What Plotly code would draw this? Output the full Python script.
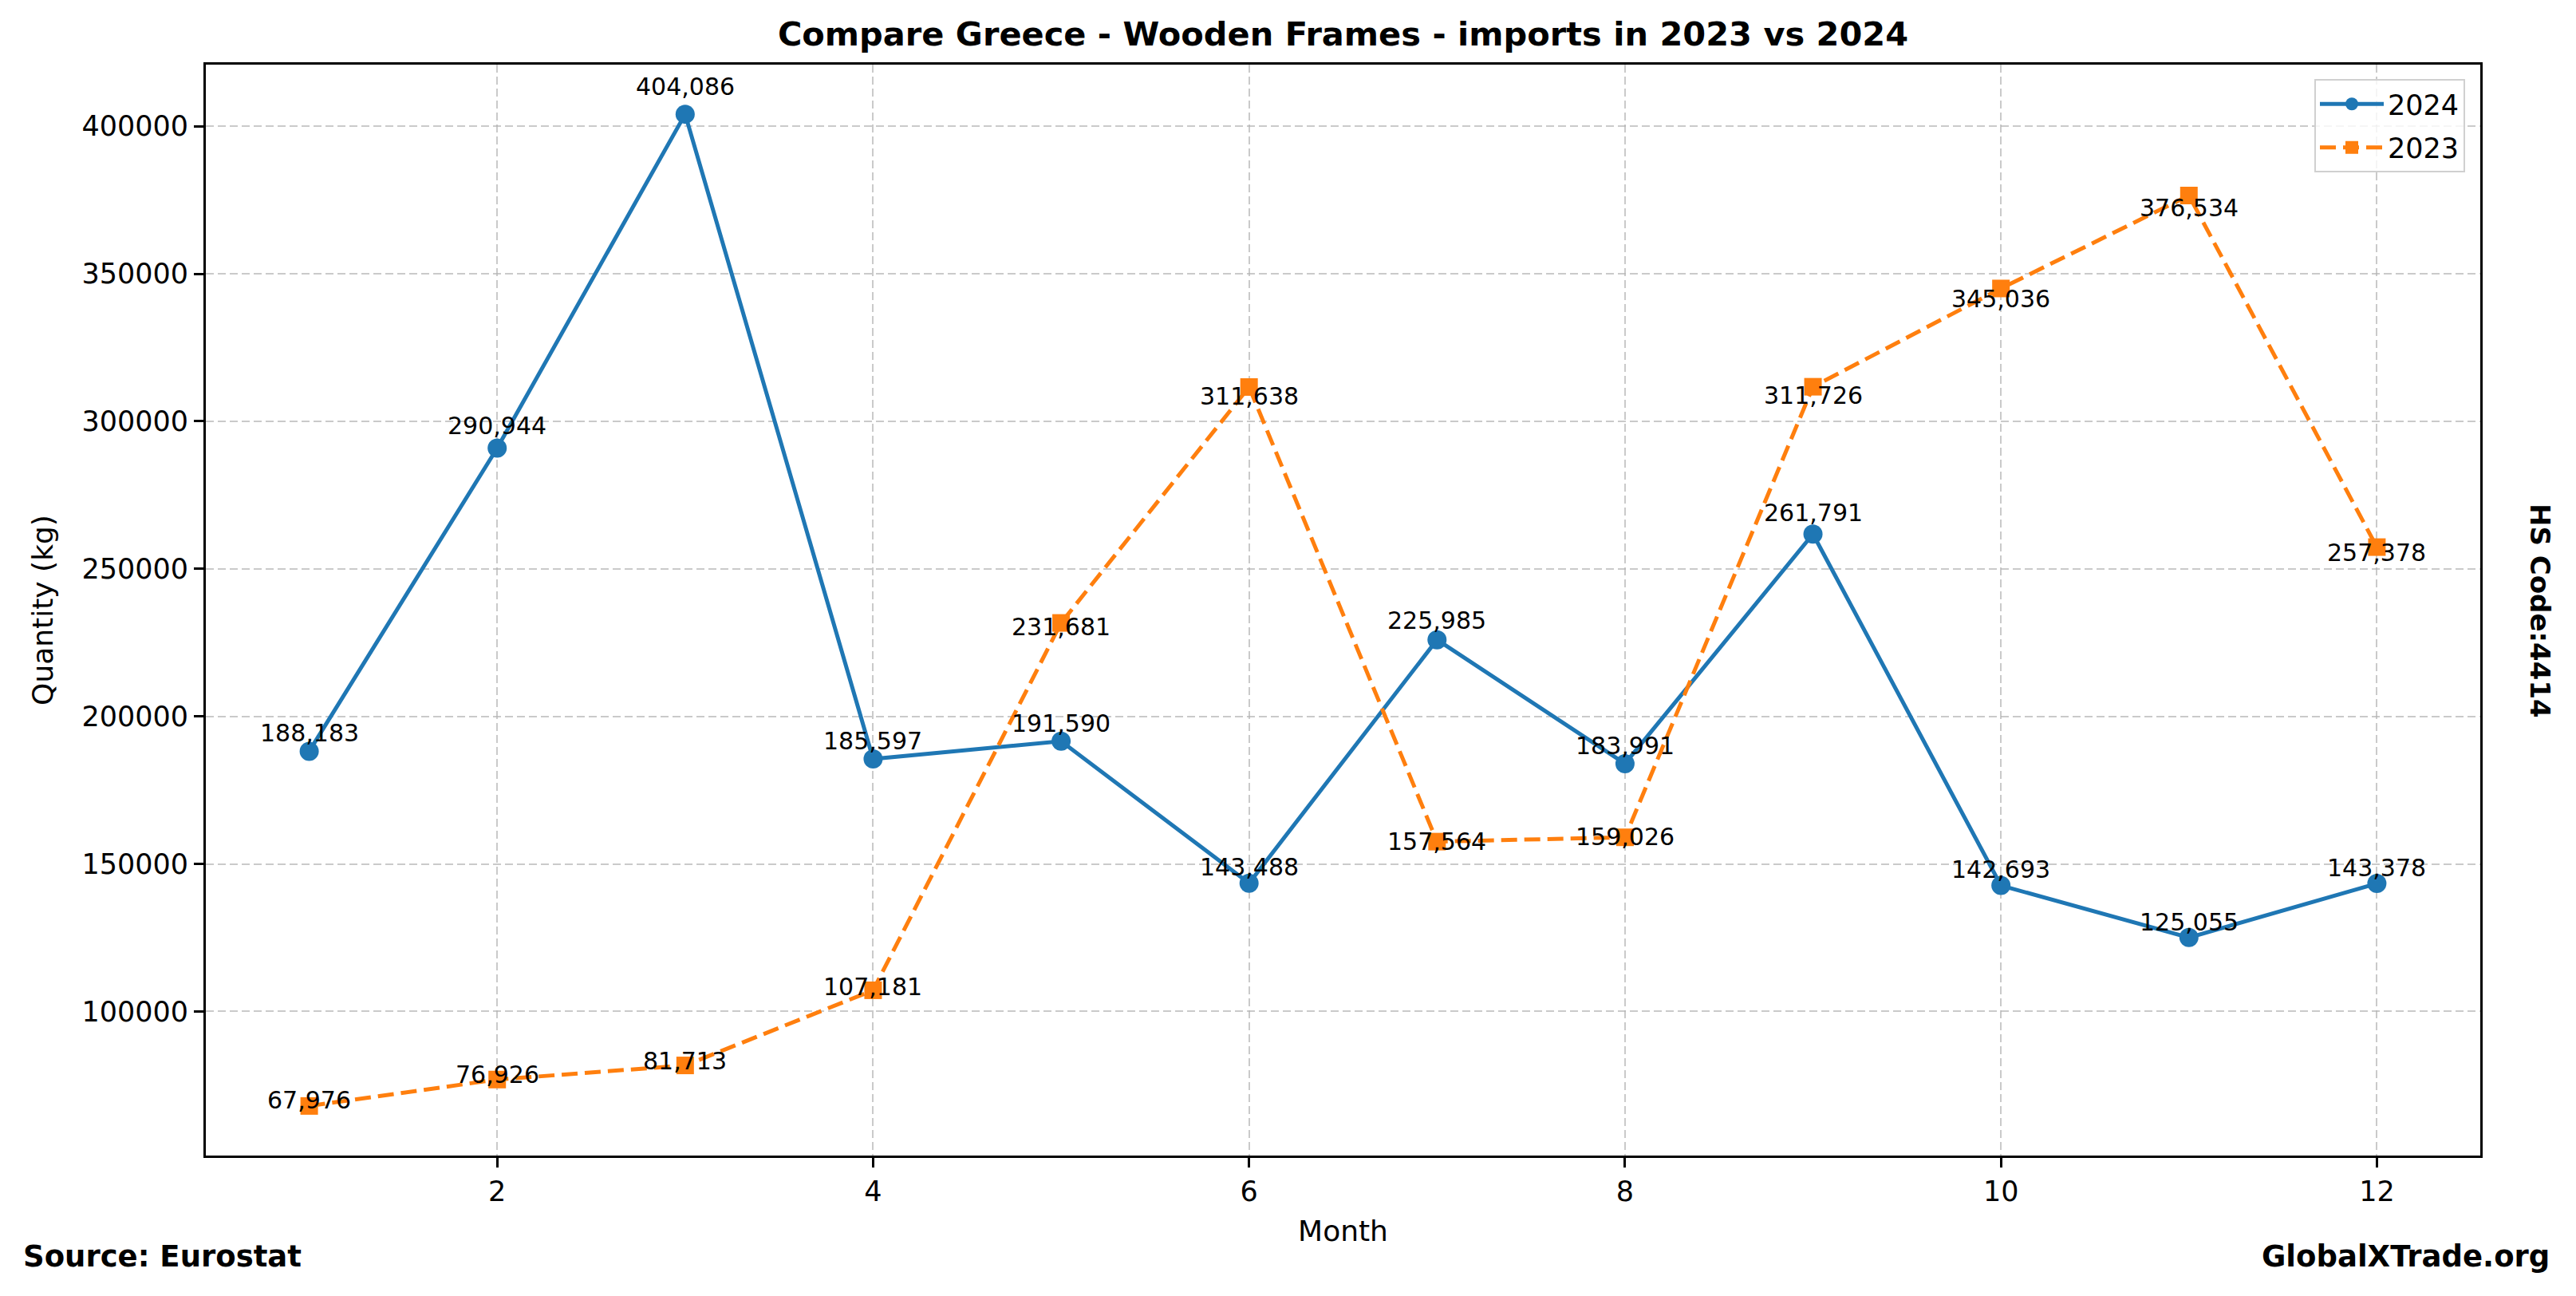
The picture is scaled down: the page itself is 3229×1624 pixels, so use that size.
import plotly.graph_objects as go

months = [1, 2, 3, 4, 5, 6, 7, 8, 9, 10, 11, 12]
values_2024 = [188183, 290944, 404086, 185597, 191590, 143488, 225985, 183991, 261791, 142693, 125055, 143378]
values_2023 = [67976, 76926, 81713, 107181, 231681, 311638, 157564, 159026, 311726, 345036, 376534, 257378]
x_ticks = [2, 4, 6, 8, 10, 12]
y_ticks = [100000, 150000, 200000, 250000, 300000, 350000, 400000]

BLUE = "#1f77b4"
ORANGE = "#ff7f0e"
FONT = "DejaVu Sans"

W, H = 3229, 1624
L, R, T, B = 258, 3109, 81, 1448

fig = go.Figure()
fig.add_trace(go.Scatter(
    x=months, y=values_2024, name="2024", mode="lines+markers", legendgroup="a",
    line=dict(color=BLUE, width=5),
    marker=dict(symbol="circle", size=24, color=BLUE),
))
fig.add_trace(go.Scatter(
    x=months, y=values_2023, name="2023", mode="lines+markers", legendgroup="b",
    line=dict(color=ORANGE, width=5, dash="20px,9px"),
    marker=dict(symbol="square", size=22, color=ORANGE),
))

# labels: 2024 slightly above (value * 1.015), 2023 slightly below (value * 0.98), baseline anchored
annotations = []
for m, v in zip(months, values_2024):
    annotations.append(dict(x=m, y=v * 1.015, xref="x", yref="y", text=f"{v:,}", showarrow=False,
                            xanchor="center", yanchor="middle", yshift=12,
                            font=dict(family=FONT, size=30, color="black")))
for m, v in zip(months, values_2023):
    annotations.append(dict(x=m, y=v * 0.98, xref="x", yref="y", text=f"{v:,}", showarrow=False,
                            xanchor="center", yanchor="middle", yshift=12,
                            font=dict(family=FONT, size=30, color="black")))


def px_to_paper(xp, yp):
    return (xp - L) / (R - L), (B - yp) / (B - T)


sx, sy = px_to_paper(27, 1574)
annotations.append(dict(x=sx, y=sy, xref="paper", yref="paper", text="<b>Source: Eurostat</b>",
                        showarrow=False, xanchor="left", yanchor="middle",
                        font=dict(family=FONT, size=37, color="black")))
gx, gy = px_to_paper(3198, 1574)
annotations.append(dict(x=gx, y=gy, xref="paper", yref="paper", text="<b>GlobalXTrade.org</b>",
                        showarrow=False, xanchor="right", yanchor="middle",
                        font=dict(family=FONT, size=37, color="black")))
hx, hy = px_to_paper(3184, 765)
annotations.append(dict(x=hx, y=hy, xref="paper", yref="paper", text="<b>HS Code:4414</b>",
                        showarrow=False, xanchor="center", yanchor="middle", textangle=90,
                        font=dict(family=FONT, size=34, color="black")))

lx, ly = px_to_paper(3090, 99)
fig.update_layout(
    width=W, height=H,
    margin=dict(l=L, r=W - R, t=T, b=H - B, pad=0),
    paper_bgcolor="white", plot_bgcolor="white",
    font=dict(family=FONT, size=35, color="black"),
    title=dict(text="<b>Compare Greece - Wooden Frames - imports in 2023 vs 2024</b>",
               x=(L + R) / 2 / W, xanchor="center", y=1 - 42 / H, yanchor="middle",
               font=dict(family=FONT, size=41.5, color="black")),
    showlegend=True,
    legend=dict(x=lx, y=ly, xanchor="right", yanchor="top", tracegroupgap=6,
                bgcolor="rgba(255,255,255,0.8)", bordercolor="#d0d0d0", borderwidth=2,
                font=dict(family=FONT, size=35, color="black"), itemwidth=80),
    annotations=annotations,
)
fig.update_xaxes(
    range=[0.45, 12.55], tickvals=x_ticks, ticktext=[str(t) for t in x_ticks],
    showline=True, linecolor="black", linewidth=2.8, mirror=True,
    ticks="outside", ticklen=12, tickwidth=2.8, tickcolor="black",
    showgrid=True, gridcolor="rgba(180,180,180,0.7)", gridwidth=2, griddash="10px,5px",
    zeroline=False,
    title=dict(text="Month", font=dict(family=FONT, size=36), standoff=18),
    tickfont=dict(family=FONT, size=35),
)
fig.update_yaxes(
    range=[51171, 420891], tickvals=y_ticks, ticktext=[str(t) for t in y_ticks],
    showline=True, linecolor="black", linewidth=2.8, mirror=True,
    ticks="outside", ticklen=12, tickwidth=2.8, tickcolor="black",
    showgrid=True, gridcolor="rgba(180,180,180,0.7)", gridwidth=2, griddash="10px,5px",
    zeroline=False,
    title=dict(text="Quantity (kg)", font=dict(family=FONT, size=36), standoff=25),
    tickfont=dict(family=FONT, size=35),
)

fig.write_html("out.html", post_script="document.body.style.margin='0';",
               config={"displayModeBar": False})
